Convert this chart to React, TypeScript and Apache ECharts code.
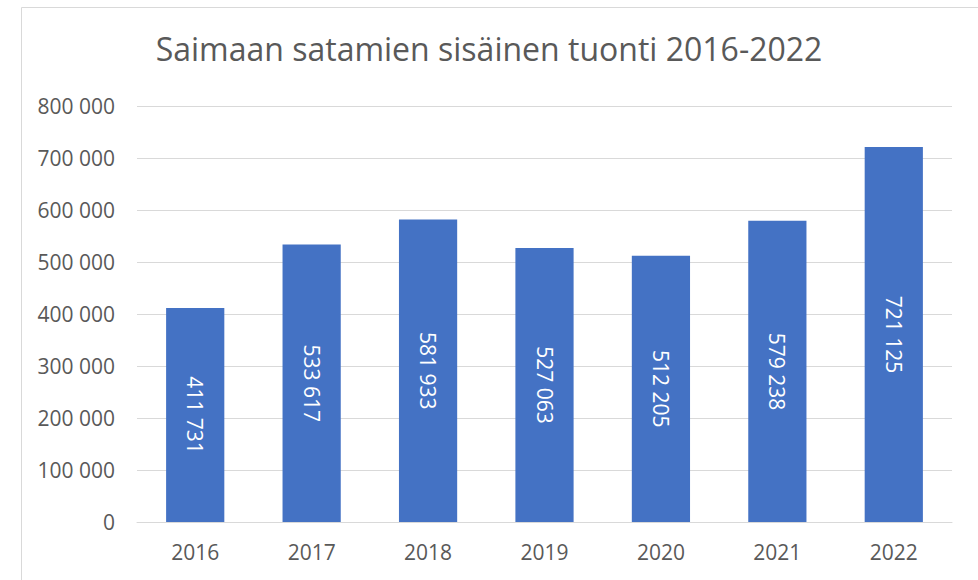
import React, { useEffect, useRef } from "react";
import * as echarts from "echarts";

const title = "Saimaan satamien sisäinen tuonti 2016-2022";
const years = ["2016", "2017", "2018", "2019", "2020", "2021", "2022"];
const imports = [411731, 533617, 581933, 527063, 512205, 579238, 721125];
const yMin = 0;
const yMax = 800000;
const yStep = 100000;

const fmt = (v: number) => String(v).replace(/\B(?=(\d{3})+(?!\d))/g, " ");

export default function App() {
  const ref = useRef<HTMLDivElement>(null);
  useEffect(() => {
    if (!ref.current) return;
    const chart = echarts.init(ref.current, undefined, { renderer: "svg" });
    chart.setOption({
      animation: false,
      backgroundColor: "#ffffff",
      title: {
        text: title,
        left: "center",
        top: 27,
        textStyle: { fontFamily: "Open Sans", fontSize: 32, fontWeight: "normal", color: "#595959" },
      },
      graphic: [
        {
          type: "rect",
          shape: { x: 21.5, y: 7.5, width: 1000, height: 600 },
          style: { fill: "none", stroke: "#d9d9d9", lineWidth: 1 },
        },
      ],
      grid: { left: 137, right: 26, top: 106, bottom: 58 },
      xAxis: {
        type: "category",
        data: years,
        axisLine: { lineStyle: { color: "#d9d9d9" } },
        axisTick: { show: false },
        axisLabel: { fontFamily: "Open Sans", fontSize: 21, color: "#595959", margin: 19 },
      },
      yAxis: {
        type: "value",
        min: yMin,
        max: yMax,
        interval: yStep,
        axisLine: { show: false },
        axisTick: { show: false },
        splitLine: { lineStyle: { color: "#d9d9d9" } },
        axisLabel: { fontFamily: "Open Sans", fontSize: 21, color: "#595959", margin: 22, formatter: (v: number) => fmt(v) },
      },
      series: [
        {
          type: "bar",
          data: imports,
          barWidth: "50%",
          itemStyle: { color: "#4472C4" },
          label: {
            show: true,
            position: "inside",
            rotate: -90,
            color: "#ffffff",
            fontFamily: "Open Sans",
            fontSize: 21,
            formatter: (p: any) => fmt(p.value),
          },
        },
      ],
    });
    return () => chart.dispose();
  }, []);
  return <div ref={ref} style={{ position: "fixed", left: 0, top: 0, width: 978, height: 580 }} />;
}
